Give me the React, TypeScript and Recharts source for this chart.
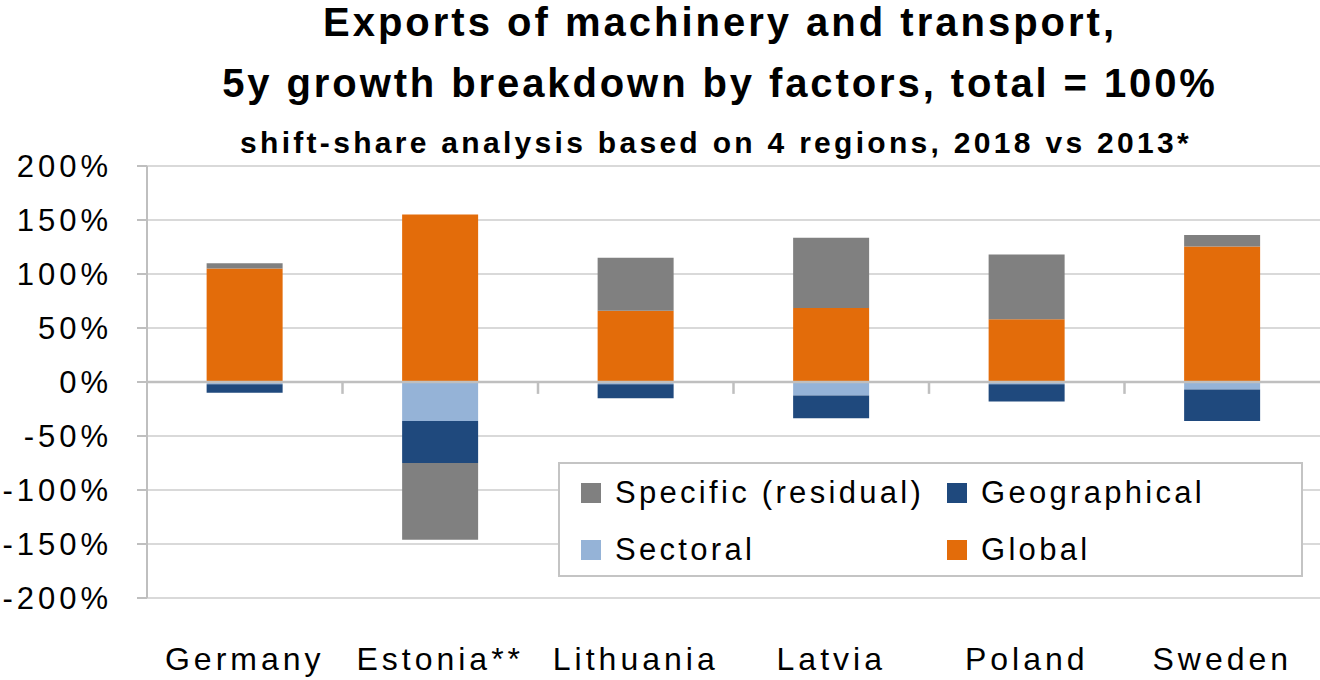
import React from "react";
import {
  Bar,
  BarChart,
  CartesianGrid,
  Legend,
  ReferenceLine,
  XAxis,
  YAxis
} from "recharts";

const categories = ["Germany", "Estonia**", "Lithuania", "Latvia", "Poland", "Sweden"];
const globalVals = [105, 155, 66, 68.5, 58, 125.5];
const sectoralVals = [-2, -36, -2, -12.5, -2, -7];
const geographicalVals = [-8, -39, -13, -21, -16, -29];
const specificVals = [5, -71, 49, 65, 60, 10.5];
const yTicks = [-200, -150, -100, -50, 0, 50, 100, 150, 200];
const legendOrder = ["Specific (residual)", "Geographical", "Sectoral", "Global"];

const font = "Arial, 'Liberation Sans', sans-serif";

const data = categories.map((name, i) => ({
  name,
  Global: globalVals[i],
  Sectoral: sectoralVals[i],
  Geographical: geographicalVals[i],
  "Specific (residual)": specificVals[i]
}));

function LegendBox({ payload }: any) {
  const items = [...(payload || [])].sort(
    (a: any, b: any) => legendOrder.indexOf(a.value) - legendOrder.indexOf(b.value)
  );
  return (
    <div
      style={{
        width: 745,
        height: 115,
        boxSizing: "border-box",
        border: "2px solid #c4c4c4",
        background: "#fff",
        display: "grid",
        gridTemplateColumns: "366px 1fr",
        gridTemplateRows: "57px 57px",
        padding: "0 0 0 21px",
        fontFamily: font,
        fontSize: 31,
        letterSpacing: 3.3,
        color: "#000"
      }}
    >
      {items.map((it: any) => (
        <div key={it.value} style={{ display: "flex", alignItems: "center" }}>
          <span
            style={{
              display: "inline-block",
              width: 20,
              height: 20,
              background: it.color,
              marginRight: 14
            }}
          />
          {it.value}
        </div>
      ))}
    </div>
  );
}

const titleStyle: React.CSSProperties = {
  position: "absolute",
  left: 0,
  width: 1440,
  textAlign: "center",
  fontWeight: "bold",
  lineHeight: 1,
  whiteSpace: "nowrap"
};

export default function App() {
  return (
    <div
      style={{
        position: "absolute",
        left: 0,
        top: 0,
        width: 1320,
        height: 680,
        background: "#fff",
        fontFamily: font
      }}
    >
      <div style={{ ...titleStyle, top: 2, fontSize: 40, letterSpacing: 3 }}>
        Exports of machinery and transport,
      </div>
      <div style={{ ...titleStyle, top: 63, fontSize: 40, letterSpacing: 2.9 }}>
        5y growth breakdown by factors, total = 100%
      </div>
      <div style={{ ...titleStyle, top: 128, width: 1432, fontSize: 30, letterSpacing: 3.3 }}>
        shift-share analysis based on 4 regions, 2018 vs 2013*
      </div>
      <BarChart
        width={1320}
        height={680}
        data={data}
        stackOffset="sign"
        barCategoryGap="30.5%"
        margin={{ top: 166, right: 0, bottom: 12, left: 0 }}
        style={{ position: "absolute", left: 0, top: 0 }}
      >
        <CartesianGrid vertical={false} stroke="#d9d9d9" strokeWidth={2} />
        <XAxis
          dataKey="name"
          height={70}
          axisLine={false}
          tickLine={false}
          tickMargin={43}
          tick={{ fill: "#000", fontSize: 32, fontFamily: font, letterSpacing: 4 }}
        />
        <YAxis
          width={147}
          domain={[-200, 200]}
          ticks={yTicks}
          interval={0}
          tickFormatter={(v: number) => `${v}%`}
          axisLine={{ stroke: "#bfbfbf", strokeWidth: 2 }}
          tickLine={{ stroke: "#bfbfbf", strokeWidth: 2 }}
          tickSize={10}
          tickMargin={25}
          tick={{ fill: "#000", fontSize: 31, fontFamily: font, letterSpacing: 4 }}
        />
        <Legend
          layout="vertical"
          align="center"
          verticalAlign="middle"
          content={<LegendBox />}
          wrapperStyle={{ left: 558, top: 462, width: 745, height: 115 }}
        />
        <Bar dataKey="Global" stackId="s" fill="#e36c0a" isAnimationActive={false} />
        <Bar dataKey="Sectoral" stackId="s" fill="#95b3d7" isAnimationActive={false} />
        <Bar dataKey="Geographical" stackId="s" fill="#1f497d" isAnimationActive={false} />
        <Bar dataKey="Specific (residual)" stackId="s" fill="#808080" isAnimationActive={false} />
        <ReferenceLine y={0} stroke="#bfbfbf" strokeWidth={2.5} />
        {/* tick marks between categories, hanging below the zero line */}
        {categories.slice(1).map((c) => (
          <ReferenceLine
            key={c}
            position="start"
            segment={[
              { x: c, y: 0 },
              { x: c, y: -11 }
            ]}
            stroke="#bfbfbf"
            strokeWidth={2.5}
          />
        ))}
      </BarChart>
    </div>
  );
}
